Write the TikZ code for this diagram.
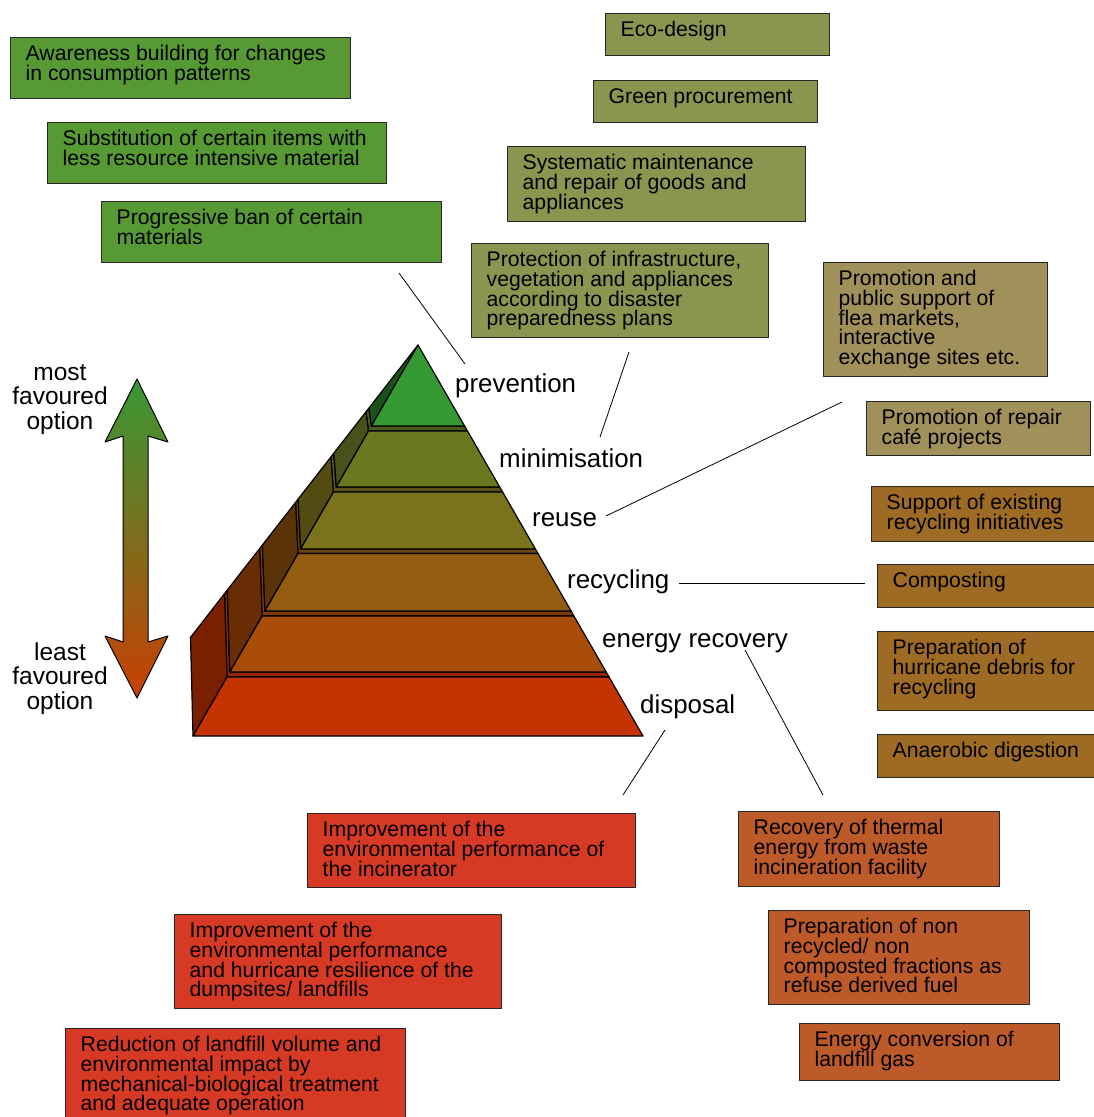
\documentclass[tikz,border=0pt]{standalone}
\usepackage{fontspec}
\setmainfont{Liberation Sans}
\usetikzlibrary{calc}

% box fills
\definecolor{cgreen}{HTML}{579A34}
\definecolor{colive}{HTML}{8A9650}
\definecolor{ctan}{HTML}{A0905A}
\definecolor{cbrown}{HTML}{9E6B24}
\definecolor{corange}{HTML}{BC5A2A}
\definecolor{cred}{HTML}{D73A24}
% pyramid faces
\definecolor{pPrev}{HTML}{359933}
\definecolor{pMin}{HTML}{68791F}
\definecolor{pReuse}{HTML}{7A721C}
\definecolor{pRecyc}{HTML}{935C10}
\definecolor{pEnergy}{HTML}{A84C08}
\definecolor{pDisp}{HTML}{C53400}
\definecolor{wPrev}{HTML}{1A521A}
\definecolor{wMin}{HTML}{46521A}
\definecolor{wReuse}{HTML}{534B12}
\definecolor{wRecyc}{HTML}{5A3408}
\definecolor{wEnergy}{HTML}{692D05}
\definecolor{wDisp}{HTML}{7A2000}
% ranking arrow gradient
\definecolor{aTop}{HTML}{3A9734}
\definecolor{aMid}{HTML}{7D6E1E}
\definecolor{aBot}{HTML}{CA3E02}

\tikzset{
  x=1pt, y=-1pt,
  optbox/.style={draw=black!85, line width=1pt, inner sep=0pt, anchor=north west},
  boxtext/.style={anchor=north west, inner sep=0pt, align=left,
    font={\fontsize{21.2}{19.7}\selectfont\lineskiplimit=-50pt}},
  lvl/.style={anchor=base west, inner sep=0pt, font={\fontsize{25.9}{25.9}\selectfont}},
  endtext/.style={anchor=north, inner sep=0pt, align=center,
    font={\fontsize{24.5}{24.5}\selectfont\lineskiplimit=-50pt}},
  face/.style={draw=black, line width=1.2pt, line join=round},
  leader/.style={draw=black, line width=0.8pt},
}

% name, fill, x0, y0, x1, y1, text
\newcommand\optionbox[7]{%
  \node[optbox, fill=#2, minimum width={#5-#3}, minimum height={#6-#4}] (#1) at (#3,#4) {};
  \node[boxtext] (#1t) at (#3+15.5,#4+7.5) {\rule{0pt}{16pt}#7};
}

\begin{document}
\begin{tikzpicture}
\useasboundingbox (0,0) rectangle (1093,1117);
\fill[white] (0,0) rectangle (1093,1117);

% ---------- ranking arrow ----------
\shade[top color=aTop, bottom color=aBot, middle color=aMid]
  (137,379) -- (168,442) -- (148,436) -- (148,642) -- (168,636) -- (137,698)
  -- (105,636) -- (123,642) -- (123,436) -- (105,442) -- cycle;
\draw[line width=1pt, line join=round]
  (137,379) -- (168,442) -- (148,436) -- (148,642) -- (168,636) -- (137,698)
  -- (105,636) -- (123,642) -- (123,436) -- (105,442) -- cycle;
\node[endtext] (most) at (60,362) {\rule{0pt}{18pt}most\\favoured\\option};
\node[endtext] (least) at (60,642) {\rule{0pt}{18pt}least\\favoured\\option};

% ---------- pyramid: ledges ----------
\filldraw[face, fill=pMin!75!black]
  (368.5,431) -- (467.5,431) -- (464.6,426) -- (371.4,426) -- (368.9,408.1) -- (366,411.8) -- cycle;
\filldraw[face, fill=pReuse!75!black]
  (333.4,492) -- (502.6,492) -- (499.7,487) -- (336.3,487) -- (333.8,453.2) -- (330.9,457) -- cycle;
\filldraw[face, fill=pRecyc!75!black]
  (298,553.5) -- (538,553.5) -- (535.4,549) -- (300.6,549) -- (298.1,499.1) -- (295.5,502.5) -- cycle;
\filldraw[face, fill=pEnergy!75!black]
  (262.1,616) -- (573.9,616) -- (571.1,611) -- (264.9,611) -- (262.4,545) -- (259.6,548.6) -- cycle;
\filldraw[face, fill=pDisp!75!black]
  (227,677) -- (609,677) -- (606.2,672) -- (229.8,672) -- (227.3,590.1) -- (224.5,593.7) -- cycle;

% ---------- pyramid: side walls ----------
\filldraw[face, fill=wPrev]   (371.4,426) -- (368.9,408.1) -- (418,345) -- cycle;
\filldraw[face, fill=wMin]    (336.3,487) -- (333.8,453.2) -- (366,411.8) -- (368.5,431) -- cycle;
\filldraw[face, fill=wReuse]  (300.6,549) -- (298.1,499.1) -- (330.9,457) -- (333.4,492) -- cycle;
\filldraw[face, fill=wRecyc]  (264.9,611) -- (262.4,545) -- (295.5,502.5) -- (298,553.5) -- cycle;
\filldraw[face, fill=wEnergy] (229.8,672) -- (227.3,590.1) -- (259.6,548.6) -- (262.1,616) -- cycle;
\filldraw[face, fill=wDisp]   (193,736) -- (190.5,637.4) -- (224.5,593.7) -- (227,677) -- cycle;

% ---------- pyramid: front faces ----------
\filldraw[face, fill=pPrev]   (371.4,426) -- (418,345) -- (464.6,426) -- cycle;
\filldraw[face, fill=pMin]    (336.3,487) -- (368.5,431) -- (467.5,431) -- (499.7,487) -- cycle;
\filldraw[face, fill=pReuse]  (300.6,549) -- (333.4,492) -- (502.6,492) -- (535.4,549) -- cycle;
\filldraw[face, fill=pRecyc]  (264.9,611) -- (298,553.5) -- (538,553.5) -- (571.1,611) -- cycle;
\filldraw[face, fill=pEnergy] (229.8,672) -- (262.1,616) -- (573.9,616) -- (606.2,672) -- cycle;
\filldraw[face, fill=pDisp]   (193,736) -- (227,677) -- (609,677) -- (643,736) -- cycle;

% ---------- level labels ----------
\node[lvl] (lprev)   at (455,392) {prevention};
\node[lvl] (lmin)    at (499,467) {minimisation};
\node[lvl] (lreuse)  at (532,526) {reuse};
\node[lvl] (lrecyc)  at (567,588) {recycling};
\node[lvl] (lenergy) at (602,647) {energy recovery};
\node[lvl] (ldisp)   at (640,713) {disposal};

% ---------- measures: prevention ----------
\optionbox{aware}{cgreen}{10}{37}{350}{98}{Awareness building for changes\\in consumption patterns}
\optionbox{subst}{cgreen}{47}{122}{386}{183}{Substitution of certain items with\\less resource intensive material}
\optionbox{ban}{cgreen}{101}{201}{441}{262}{Progressive ban of certain\\materials}

% ---------- measures: minimisation ----------
\optionbox{eco}{colive}{605}{13}{829}{55}{Eco-design}
\optionbox{green}{colive}{593}{80}{817}{122}{Green procurement}
\optionbox{maint}{colive}{507}{146}{805}{221}{Systematic maintenance\\and repair of goods and\\appliances}
\optionbox{protect}{colive}{471}{243}{768}{337}{Protection of infrastructure,\\vegetation and appliances\\according to disaster\\preparedness plans}

% ---------- measures: reuse ----------
\optionbox{flea}{ctan}{823}{262}{1047}{376}{Promotion and\\public support of\\flea markets,\\interactive\\exchange sites etc.}
\optionbox{cafe}{ctan}{866}{401}{1090}{455}{Promotion of repair\\café projects}

% ---------- measures: recycling ----------
\optionbox{support}{cbrown}{871}{486}{1100}{541}{Support of existing\\recycling initiatives}
\optionbox{compost}{cbrown}{877}{564}{1100}{607}{Composting}
\optionbox{debris}{cbrown}{877}{631}{1100}{710}{Preparation of\\hurricane debris for\\recycling}
\optionbox{anaer}{cbrown}{877}{734}{1100}{777}{Anaerobic digestion}

% ---------- measures: energy recovery ----------
\optionbox{thermal}{corange}{738}{811}{999}{886}{Recovery of thermal\\energy from waste\\incineration facility}
\optionbox{rdf}{corange}{768}{910}{1029}{1004}{Preparation of non\\recycled/ non\\composted fractions as\\refuse derived fuel}
\optionbox{lfgas}{corange}{799}{1023}{1059}{1080}{Energy conversion of\\landfill gas}

% ---------- measures: disposal ----------
\optionbox{incin}{cred}{307}{813}{635}{887}{Improvement of the\\environmental performance of\\the incinerator}
\optionbox{dump}{cred}{174}{914}{501}{1008}{Improvement of the\\environmental performance\\and hurricane resilience of the\\dumpsites/ landfills}
\optionbox{mbt}{cred}{65}{1028}{405}{1130}{Reduction of landfill volume and\\environmental impact by\\mechanical-biological treatment\\and adequate operation}

% ---------- leader lines ----------
\coordinate (cPrevA) at (399,273);  \coordinate (cPrevB) at (465,364);
\coordinate (cMinA) at (629,352);   \coordinate (cMinB) at (600,437);
\coordinate (cReuseA) at (842,402); \coordinate (cReuseB) at (606,516);
\coordinate (cRecA) at (679,583);   \coordinate (cRecB) at (865,583);
\coordinate (cEnA) at (745,650);    \coordinate (cEnB) at (823,795);
\coordinate (cDispA) at (665,730);  \coordinate (cDispB) at (623,795);
\draw[leader] (cPrevA) -- (cPrevB);
\draw[leader] (cMinA) -- (cMinB);
\draw[leader] (cReuseA) -- (cReuseB);
\draw[leader] (cRecA) -- (cRecB);
\draw[leader] (cEnA) -- (cEnB);
\draw[leader] (cDispA) -- (cDispB);
\end{tikzpicture}
\end{document}
